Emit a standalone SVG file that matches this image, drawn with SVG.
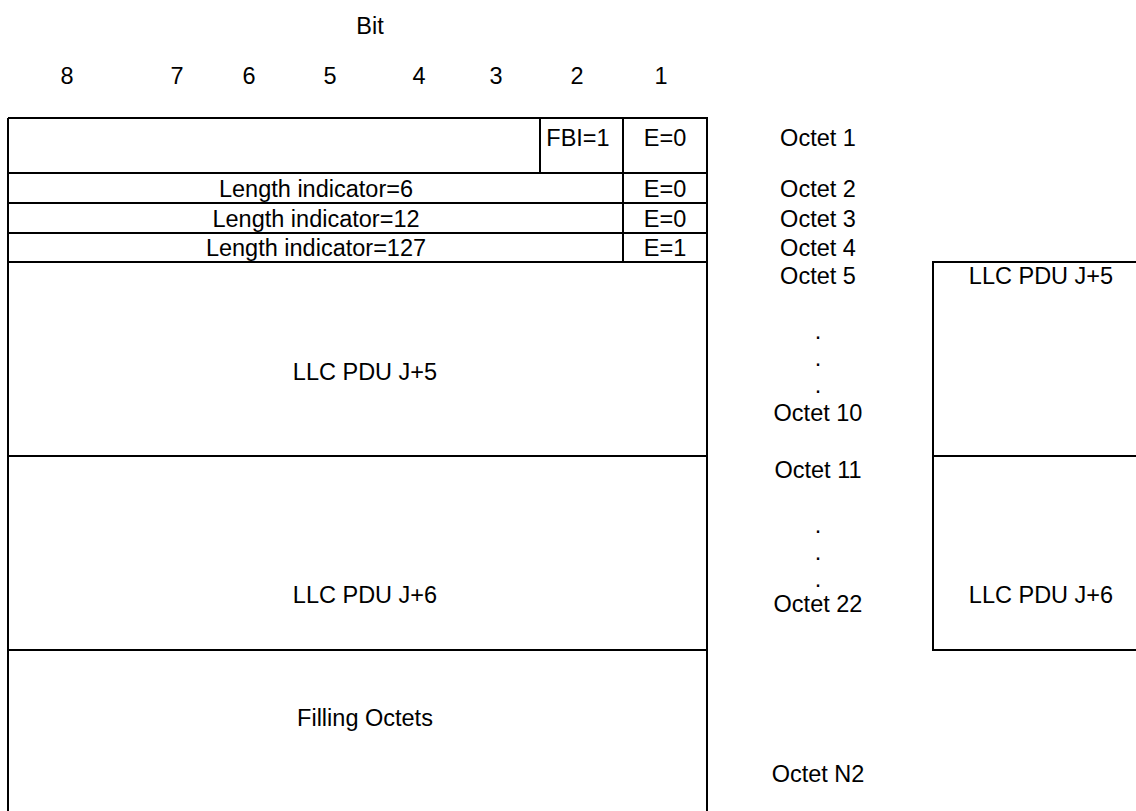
<svg xmlns="http://www.w3.org/2000/svg" width="1136" height="811" viewBox="0 0 1136 811">
<style>
text{font-family:"Liberation Sans",Arial,sans-serif;font-size:23.5px;fill:#000;text-anchor:middle}
.ln{stroke:#000;stroke-width:2;fill:none}
</style>
<rect width="1136" height="811" fill="#fff"/>
<g id="header">
<text x="370" y="34">Bit</text>
<text x="67" y="84">8</text>
<text x="177" y="84">7</text>
<text x="249" y="84">6</text>
<text x="330" y="84">5</text>
<text x="419" y="84">4</text>
<text x="496" y="84">3</text>
<text x="577" y="84">2</text>
<text x="661" y="84">1</text>
</g>
<g id="connectors">
<path class="ln" d="M8,118 H707 V811 M8,118 V811 M8,173 H707 M8,203 H707 M8,233 H707 M8,262 H707 M8,456 H707 M8,650 H707 M540,118 V173 M623,118 V262"/>
<path class="ln" d="M1140,262 H933 V650 H1140 M933,456 H1140"/>
</g>
<g id="octet1">
<text x="578" y="146">FBI=1</text>
<text x="665" y="146">E=0</text>
<text x="818" y="146">Octet 1</text>
</g>
<g id="octet2">
<text x="316" y="197">Length indicator=6</text>
<text x="665" y="197">E=0</text>
<text x="818" y="197">Octet 2</text>
</g>
<g id="octet3">
<text x="316" y="227">Length indicator=12</text>
<text x="665" y="227">E=0</text>
<text x="818" y="227">Octet 3</text>
</g>
<g id="octet4">
<text x="316" y="256">Length indicator=127</text>
<text x="665" y="256">E=1</text>
<text x="818" y="256">Octet 4</text>
</g>
<g id="pdu5">
<text x="365" y="380">LLC PDU J+5</text>
<text x="818" y="284">Octet 5</text>
<text x="818" y="339">.</text>
<text x="818" y="366">.</text>
<text x="818" y="393">.</text>
<text x="818" y="421">Octet 10</text>
<text x="1041" y="284">LLC PDU J+5</text>
</g>
<g id="pdu6">
<text x="365" y="603">LLC PDU J+6</text>
<text x="818" y="478">Octet 11</text>
<text x="818" y="533">.</text>
<text x="818" y="560">.</text>
<text x="818" y="587">.</text>
<text x="818" y="612">Octet 22</text>
<text x="1041" y="603">LLC PDU J+6</text>
</g>
<g id="filling">
<text x="365" y="726">Filling Octets</text>
<text x="818" y="782">Octet N2</text>
</g>
</svg>
